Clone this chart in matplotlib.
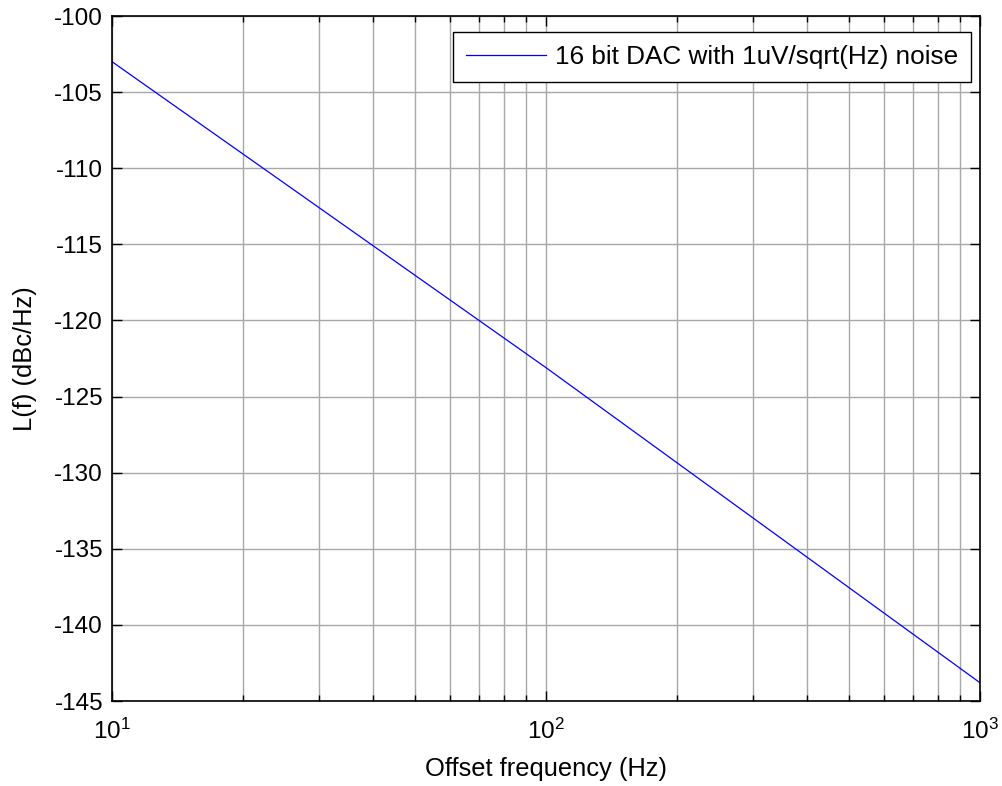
import numpy as np
import matplotlib
matplotlib.use('Agg')
import matplotlib.pyplot as plt
from matplotlib.ticker import LogLocator

# values
freq = [10, 100, 1000]
phase_noise = [-103.0, -123.1, -143.8]
label = '16 bit DAC with 1uV/sqrt(Hz) noise'
yticks = [-145, -140, -135, -130, -125, -120, -115, -110, -105, -100]

plt.rcParams['font.family'] = ['Liberation Sans', 'DejaVu Sans']
plt.rcParams['mathtext.fontset'] = 'custom'
plt.rcParams['mathtext.rm'] = 'Liberation Sans'
plt.rcParams['mathtext.it'] = 'Liberation Sans'
plt.rcParams['axes.unicode_minus'] = False

fig = plt.figure(figsize=(10.03, 7.86), dpi=100)
ax = fig.add_axes([0.1117, 0.1081, 0.8654, 0.8715])

ax.semilogx(freq, phase_noise, color='blue', linewidth=0.9, label=label)

ax.set_xlim(10, 1000)
ax.set_ylim(-145, -100)
ax.set_yticks(yticks)
ax.xaxis.set_major_locator(LogLocator(base=10))
ax.xaxis.set_minor_locator(LogLocator(base=10, subs=np.arange(2, 10)))

ax.grid(True, which='major', color='#a8a8a8', linewidth=1, linestyle='-')
ax.grid(True, which='minor', axis='x', color='#a8a8a8', linewidth=1, linestyle='-')

ax.tick_params(which='both', direction='in', top=True, right=True, labelsize=17.5)
ax.tick_params(which='major', length=7, width=1)
ax.tick_params(which='minor', length=4, width=1)
ax.tick_params(axis='y', pad=6.5)
ax.tick_params(axis='x', pad=13)
for s in ax.spines.values():
    s.set_linewidth(1.2)

ax.set_xlabel('Offset frequency (Hz)', fontsize=18.4, labelpad=9.5)
ax.set_ylabel('L(f) (dBc/Hz)', fontsize=18.4, labelpad=12.5)

leg = ax.legend(loc='upper right', bbox_to_anchor=(0.9896, 0.9766), fontsize=18.8,
                fancybox=False, framealpha=1, edgecolor='black', borderaxespad=0,
                handlelength=3.05, handletextpad=0.35, borderpad=0.5)
leg.get_frame().set_linewidth(1)

fig.savefig('out.png', dpi=100)
